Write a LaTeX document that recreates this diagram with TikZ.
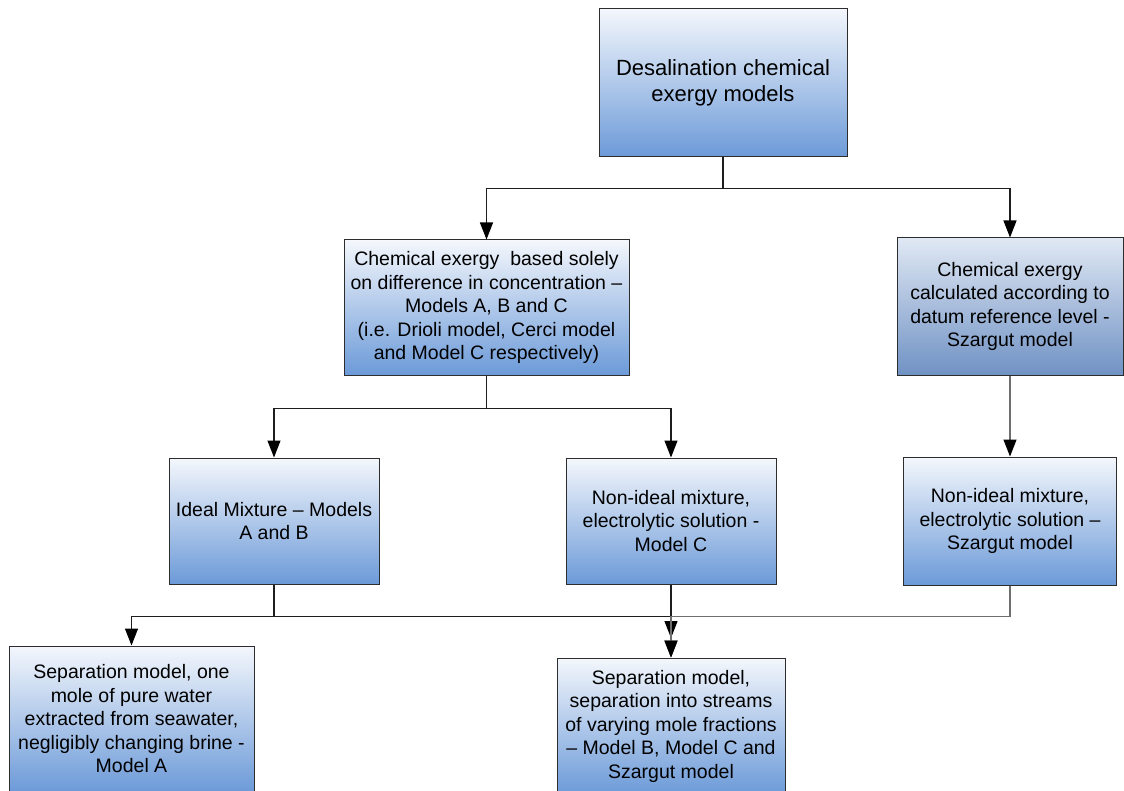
\documentclass[tikz,border=0pt]{standalone}
\usepackage{fontspec}
\setmainfont{Liberation Sans}
\usetikzlibrary{arrows.meta}
\definecolor{boxline}{RGB}{45,45,45}
\definecolor{shadetop}{RGB}{244,247,252}
\definecolor{shadebot}{RGB}{108,154,216}
\definecolor{greytop}{RGB}{224,232,244}
\definecolor{greybot}{RGB}{112,146,196}
\definecolor{linkdark}{RGB}{30,30,30}
\definecolor{linkgrey}{RGB}{110,110,110}
\begin{document}
\begin{tikzpicture}[x=1pt,y=-1pt,
  box/.style={draw=boxline, line width=1pt, top color=shadetop, bottom color=shadebot,
    align=center, inner sep=0pt, font=\fontsize{19.5}{23.5}\selectfont},
  greybox/.style={box, top color=greytop, bottom color=greybot},
  link/.style={draw=linkdark, line width=1.2pt},
  softlink/.style={draw=linkgrey, line width=1.2pt},
  tip/.style={-{Triangle[length=17pt,width=13pt,color=black]}}]
\useasboundingbox (0,0) rectangle (1124,791);

% boxes
\node[box, minimum width=248pt, minimum height=148pt,
  font=\fontsize{22}{26}\selectfont] (top) at (723,83)
  {Desalination chemical\\exergy models};
\node[box, minimum width=285pt, minimum height=135pt] (conc) at (486.5,307.5)
  {Chemical exergy\ \ based solely\\on difference in concentration –\\Models A, B and C\\(i.e. Drioli model, Cerci model\\and Model C respectively)};
\node[greybox, minimum width=226pt, minimum height=137pt] (datum) at (1010,306.5)
  {Chemical exergy\\calculated according to\\datum reference level -\\Szargut model};
\node[box, minimum width=210pt, minimum height=126pt] (ideal) at (274,521)
  {Ideal Mixture – Models\\A and B};
\node[box, minimum width=210pt, minimum height=126pt] (nonC) at (671,521)
  {Non-ideal mixture,\\electrolytic solution -\\Model C};
\node[box, minimum width=213pt, minimum height=128pt] (nonS) at (1010,521)
  {Non-ideal mixture,\\electrolytic solution –\\Szargut model};
\node[box, minimum width=245pt, minimum height=146pt] (sepA) at (131.5,719)
  {Separation model, one\\mole of pure water\\extracted from seawater,\\negligibly changing brine -\\Model A};
\node[box, minimum width=228pt, minimum height=136pt] (sepB) at (671,726)
  {Separation model,\\separation into streams\\of varying mole fractions\\– Model B, Model C and\\Szargut model};

\coordinate (midB) at (671,638);

% connectors
\draw[link,tip] (top.south) -- ++(0,31) -| (conc.north);
\draw[link,tip] (top.south) -- ++(0,31) -| (datum.north);
\draw[link,tip] (conc.south) -- ++(0,33) -| (ideal.north);
\draw[link,tip] (conc.south) -- ++(0,33) -| (nonC.north);
\draw[softlink,tip] (datum.south) -- (nonS.north);
\draw[link,tip] (ideal.south) -- ++(0,32) -| (sepA.north);
\draw[link,tip] (ideal.south) -- ++(0,32) -| (midB);
\draw[link,tip] (nonC.south) -- (sepB.north);
\draw[softlink,tip] (nonS.south) -- ++(0,31) -| (sepB.north);
\end{tikzpicture}
\end{document}
